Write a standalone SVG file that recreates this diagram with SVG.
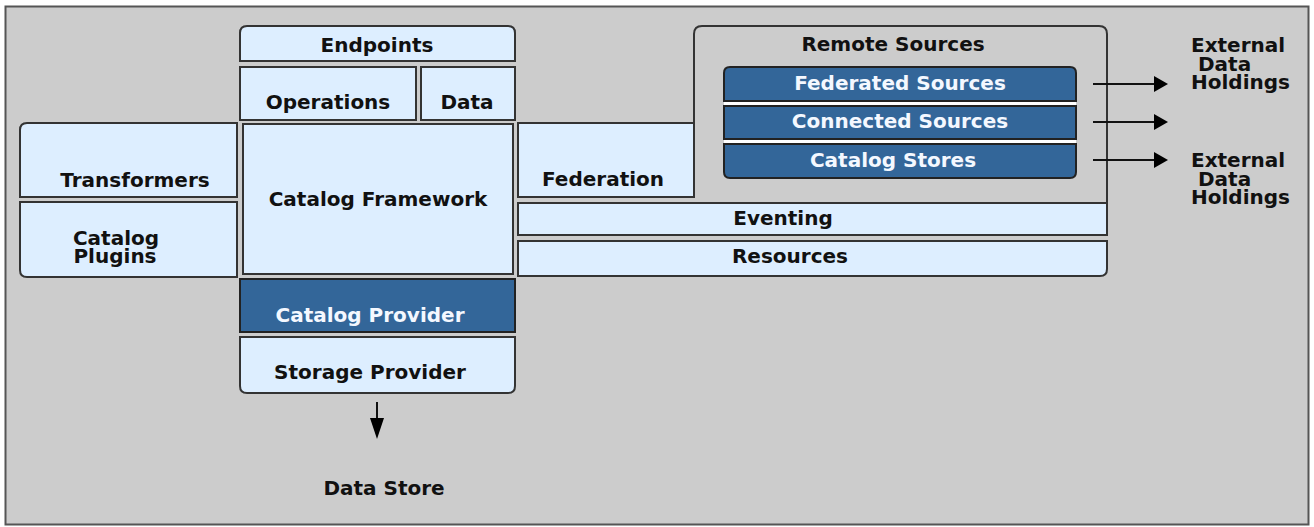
<svg xmlns="http://www.w3.org/2000/svg" width="1314" height="527" viewBox="0 0 1314 527">
<style>
.lb{fill:#ddeeff;stroke:#333;stroke-width:2}
.db{fill:#336699;stroke:#222;stroke-width:2}
.t{font-family:"DejaVu Sans","Liberation Sans",sans-serif;font-weight:bold;font-size:20px;fill:#111;text-anchor:middle}
.w{fill:#f4f8ff}
.ex{text-anchor:start}
.ln{stroke:#111;stroke-width:2;fill:none}
.ah{fill:#000}
</style>
<rect x="0" y="0" width="1314" height="527" fill="#fff"/>
<rect x="5.5" y="6.5" width="1303" height="518" fill="#cccccc" stroke="#555" stroke-width="2"/>

<g id="remote-sources">
<path d="M694,123 V34 Q694,26 702,26 H1099 Q1107,26 1107,34 V202" fill="none" stroke="#333" stroke-width="2"/>
<text class="t" x="893" y="51">Remote Sources</text>
</g>
<g id="endpoints">
<path class="lb" d="M240,61 V33 Q240,26 247,26 H508 Q515,26 515,33 V61 Z"/>
<text class="t" x="377" y="52">Endpoints</text>
</g>
<g id="operations">
<rect class="lb" x="240" y="67" width="176" height="53"/>
<text class="t" x="328" y="109">Operations</text>
</g>
<g id="data">
<rect class="lb" x="421" y="67" width="94" height="53"/>
<text class="t" x="467" y="109">Data</text>
</g>
<g id="transformers">
<path class="lb" d="M20,197 V130 Q20,123 27,123 H237 V197 Z"/>
<text class="t" x="135" y="187">Transformers</text>
</g>
<g id="catalog-plugins">
<path class="lb" d="M20,202 H237 V277 H27 Q20,277 20,270 Z"/>
<text class="t" x="116" y="245">Catalog</text>
<text class="t" x="115" y="263">Plugins</text>
</g>
<g id="catalog-framework">
<rect class="lb" x="243" y="124" width="270" height="150"/>
<text class="t" x="378" y="206">Catalog Framework</text>
</g>
<g id="federation">
<rect class="lb" x="518" y="123" width="176" height="74"/>
<text class="t" x="603" y="186">Federation</text>
</g>
<g id="eventing">
<rect class="lb" x="518" y="203" width="589" height="32"/>
<text class="t" x="783" y="225">Eventing</text>
</g>
<g id="resources">
<path class="lb" d="M518,241 H1107 V269 Q1107,276 1100,276 H518 Z"/>
<text class="t" x="790" y="263">Resources</text>
</g>
<g id="catalog-provider">
<rect class="db" x="240" y="279" width="275" height="53"/>
<text class="t w" x="370" y="322">Catalog Provider</text>
</g>
<g id="storage-provider">
<path class="lb" d="M240,337 H515 V386 Q515,393 508,393 H247 Q240,393 240,386 Z"/>
<text class="t" x="370" y="379">Storage Provider</text>
</g>
<g id="sources">
<rect x="724" y="100" width="352" height="46" fill="#fff"/>
<g id="federated-sources">
<path class="db" d="M724,101 V73 Q724,67 730,67 H1070 Q1076,67 1076,73 V101 Z"/>
<text class="t w" x="900" y="90">Federated Sources</text>
</g>
<g id="connected-sources">
<rect class="db" x="724" y="106" width="352" height="33"/>
<text class="t w" x="900" y="128">Connected Sources</text>
</g>
<g id="catalog-stores">
<path class="db" d="M724,144 H1076 V172 Q1076,178 1070,178 H730 Q724,178 724,172 Z"/>
<text class="t w" x="893" y="167">Catalog Stores</text>
</g>
</g>
<g id="external-1">
<text class="t ex" x="1191" y="52">External</text>
<text class="t ex" x="1198" y="71">Data</text>
<text class="t ex" x="1191" y="89">Holdings</text>
</g>
<g id="external-2">
<text class="t ex" x="1191" y="167">External</text>
<text class="t ex" x="1198" y="186">Data</text>
<text class="t ex" x="1191" y="204">Holdings</text>
</g>
<g id="data-store">
<text class="t" x="384" y="495">Data Store</text>
</g>
<g id="connectors">
<line class="ln" x1="1093" y1="84" x2="1156" y2="84"/>
<polygon class="ah" points="1154,76 1168,84 1154,92"/>
<line class="ln" x1="1093" y1="122" x2="1156" y2="122"/>
<polygon class="ah" points="1154,114 1168,122 1154,130"/>
<line class="ln" x1="1093" y1="160" x2="1156" y2="160"/>
<polygon class="ah" points="1154,152 1168,160 1154,168"/>
<line class="ln" x1="377" y1="402" x2="377" y2="420"/>
<polygon class="ah" points="370,418 384,418 377,439"/>
</g>
</svg>
